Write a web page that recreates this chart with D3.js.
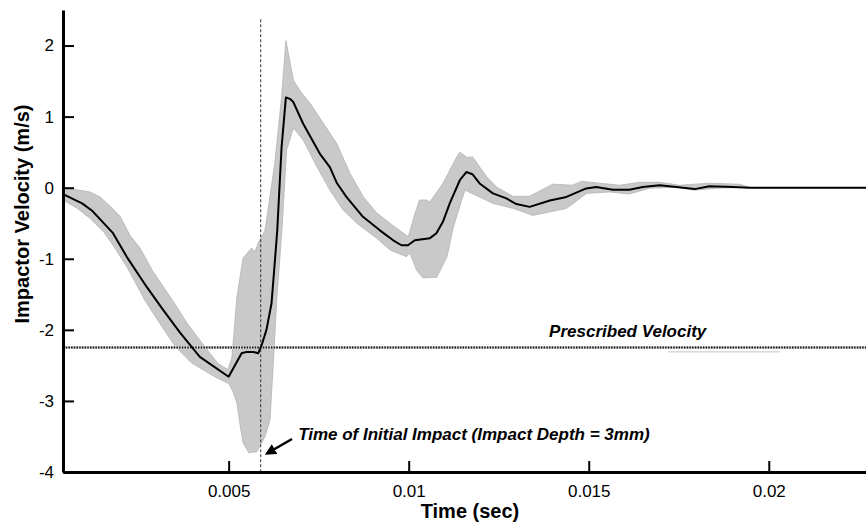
<!DOCTYPE html>
<html>
<head>
<meta charset="utf-8">
<script src="https://cdn.jsdelivr.net/npm/d3@7"></script>
<style>
  body { margin: 0; background: #fff; }
  svg { display: block; font-family: "Liberation Sans", Arial, sans-serif; }
</style>
</head>
<body>
<div id="chart"></div>
<script>
// mean impactor velocity [time (s), velocity (m/s)]
var meanCurve = [
  [0.0004,-0.09],[0.00093,-0.22],[0.0012,-0.32],[0.00179,-0.64],[0.00218,-0.98],
  [0.00273,-1.40],[0.00318,-1.72],[0.00365,-2.04],[0.0042,-2.38],[0.005,-2.66],
  [0.00536,-2.33],[0.0055,-2.31],[0.00568,-2.31],[0.00582,-2.33],[0.00592,-2.21],
  [0.00605,-2.00],[0.00619,-1.63],[0.00628,-1.06],[0.00635,-0.60],[0.00647,0.57],
  [0.00659,1.27],[0.0067,1.25],[0.00679,1.21],[0.00707,0.90],[0.00753,0.48],
  [0.00781,0.29],[0.0080,0.07],[0.00827,-0.13],[0.00873,-0.41],[0.0092,-0.60],[0.00957,-0.74],
  [0.0098,-0.81],[0.00998,-0.81],[0.01017,-0.74],[0.01059,-0.71],[0.01077,-0.64],
  [0.01095,-0.48],[0.01114,-0.22],[0.01142,0.105],[0.0116,0.22],[0.01177,0.19],
  [0.01197,0.06],[0.01234,-0.08],[0.01271,-0.15],[0.01299,-0.23],[0.01336,-0.27],
  [0.01392,-0.18],[0.01438,-0.13],[0.01493,-0.01],[0.01521,0.01],[0.01567,-0.03],
  [0.01613,-0.03],[0.0165,0.01],[0.01697,0.035],[0.01743,0.01],[0.01794,-0.02],
  [0.01835,0.02],[0.019,0.01],[0.01946,0],[0.0227,0]
]

// upper edge of the grey band
var bandUpper = [
  [0.0004,0.0],[0.00079,-0.03],[0.00115,-0.06],[0.00143,-0.13],[0.00171,-0.26],
  [0.00198,-0.40],[0.00226,-0.67],[0.00254,-0.85],[0.0029,-1.18],[0.00345,-1.59],
  [0.00384,-1.90],[0.00434,-2.24],[0.0047,-2.47],[0.00498,-2.56],
  [0.00509,-2.39],[0.00523,-1.54],[0.0054,-0.99],[0.00564,-0.85],
  [0.00573,-0.90],[0.00582,-0.78],[0.00601,-0.60],[0.00628,0.34],[0.00647,1.275],
  [0.00659,2.07],[0.0068,1.51],[0.0070,1.35],[0.00726,1.19],[0.00763,0.906],
  [0.0080,0.624],[0.00837,0.202],[0.00874,-0.127],[0.00911,-0.354],[0.00948,-0.501],
  [0.00999,-0.69],[0.01018,-0.354],[0.0103,-0.173],[0.01049,-0.173],[0.01059,-0.20],
  [0.01095,0.06],[0.01133,0.43],[0.01142,0.50],
  [0.01161,0.43],[0.01178,0.43],[0.01217,0.15],[0.01244,0.01],[0.01289,-0.12],
  [0.01336,-0.12],[0.014,0.05],[0.01455,0.035],[0.0148,0.09],[0.0153,0.063],
  [0.01586,0.035],[0.01641,0.077],[0.01697,0.077],[0.01752,0.035],[0.01835,0.063],
  [0.01919,0.049],[0.01946,0.007]
]

// lower edge of the grey band
var bandLower = [
  [0.0004,-0.173],[0.00079,-0.29],[0.00115,-0.43],[0.00154,-0.63],[0.00179,-0.81],
  [0.00218,-1.12],[0.00268,-1.59],[0.00309,-1.91],[0.00351,-2.23],[0.00398,-2.47],
  [0.00462,-2.66],[0.00501,-2.76],[0.00512,-2.87],[0.00523,-3.03],[0.00531,-3.31],
  [0.0054,-3.59],[0.00556,-3.73],[0.00578,-3.715],[0.00592,-3.59],[0.00601,-3.50],
  [0.00615,-3.265],[0.00623,-2.56],[0.00634,-1.54],[0.00648,-0.60],[0.00661,0.53],
  [0.0068,0.84],[0.00707,0.67],[0.00745,0.295],[0.00781,-0.033],[0.00818,-0.314],
  [0.00856,-0.50],[0.00911,-0.71],[0.00948,-0.877],[0.00994,-0.97],[0.01003,-0.92],
  [0.01022,-1.16],[0.0104,-1.27],
  [0.01078,-1.26],[0.01106,-0.98],[0.01124,-0.555],[0.01156,-0.035],[0.01197,-0.13],
  [0.01233,-0.22],[0.01289,-0.29],[0.01345,-0.39],[0.01439,-0.29],[0.01494,-0.08],
  [0.01558,-0.06],[0.01613,-0.09],[0.01669,-0.007],[0.01744,0.007],[0.01794,-0.035],
  [0.01855,-0.007],[0.01946,0.007]
]

var xTicks = [0.005, 0.01, 0.015, 0.02]
var xTickLabels = ["0.005", "0.01", "0.015", "0.02"]
var yTicks = [-4, -3, -2, -1, 0, 1, 2]
var yTickLabels = ["-4", "-3", "-2", "-1", "0", "1", "2"]

var prescribedVelocity = -2.25
var impactTime = 0.00589
var faintSegment = [[0.0172, -2.31], [0.0203, -2.31]]
var impactArrow = [[0.00676, -3.536], [0.00606, -3.74]]
var impactLabel = {t: 0.00693, v: -3.55, text: "Time of Initial Impact (Impact Depth = 3mm)"}
var prescribedLabel = {t: 0.0139, v: -2.10, text: "Prescribed Velocity"}

var W = 866, H = 526
var margin = {top: 10, right: 0, bottom: 54, left: 63}

var svg = d3.select("#chart").append("svg")
  .attr("width", W)
  .attr("height", H)

var xScale = d3.scaleLinear()
  .domain([0.0004, 0.0227])
  .range([margin.left, W - margin.right])

var yScale = d3.scaleLinear()
  .domain([-4, 2.5])
  .range([H - margin.bottom, margin.top])

var defs = svg.append("defs")
defs.append("marker")
  .attr("id", "arrowhead")
  .attr("viewBox", "0 0 10 10")
  .attr("refX", 8)
  .attr("refY", 5)
  .attr("markerWidth", 4.5)
  .attr("markerHeight", 4.5)
  .attr("orient", "auto")
  .append("path")
  .attr("d", "M0,0 L10,5 L0,10 Z")
  .attr("fill", "#000")

var line = d3.line()
  .x(function(d){ return xScale(d[0]) })
  .y(function(d){ return yScale(d[1]) })

// grey band: upper edge forward, lower edge back
var bandPoly = bandUpper.concat(bandLower.slice().reverse())
svg.append("path")
  .attr("d", line(bandPoly) + "Z")
  .attr("fill", "#c9c9c9")
  .attr("stroke", "#b4b4b4")
  .attr("stroke-width", 0.8)

// faint grey segment under the prescribed line
svg.append("path")
  .attr("d", line(faintSegment))
  .attr("stroke", "#c4c4c4")
  .attr("stroke-width", 1)
  .attr("fill", "none")

// prescribed velocity (dotted)
svg.append("line")
  .attr("x1", xScale.range()[0])
  .attr("x2", xScale.range()[1])
  .attr("y1", yScale(prescribedVelocity))
  .attr("y2", yScale(prescribedVelocity))
  .attr("stroke", "#d8d8d8")
  .attr("stroke-width", 3)
svg.append("line")
  .attr("x1", xScale.range()[0])
  .attr("x2", xScale.range()[1])
  .attr("y1", yScale(prescribedVelocity))
  .attr("y2", yScale(prescribedVelocity))
  .attr("stroke", "#111")
  .attr("stroke-width", 2)
  .attr("stroke-dasharray", "1.5,1.2")

// time of initial impact (dashed)
svg.append("line")
  .attr("x1", xScale(impactTime))
  .attr("x2", xScale(impactTime))
  .attr("y1", yScale(2.37))
  .attr("y2", yScale(-4))
  .attr("stroke", "#333")
  .attr("stroke-width", 1)
  .attr("stroke-dasharray", "3,2")

// mean curve
svg.append("path")
  .attr("d", line(meanCurve))
  .attr("fill", "none")
  .attr("stroke", "#000")
  .attr("stroke-width", 2)
  .attr("stroke-linejoin", "round")

// axes
var xAxis = d3.axisBottom(xScale)
  .tickValues(xTicks)
  .tickFormat(function(d, i){ return xTickLabels[i] })
  .tickSizeInner(-11)
  .tickSizeOuter(0)
  .tickPadding(13)

var gx = svg.append("g")
  .attr("transform", "translate(0," + yScale(-4) + ")")
  .call(xAxis)

var yAxis = d3.axisLeft(yScale)
  .tickValues(yTicks)
  .tickFormat(function(d, i){ return yTickLabels[i] })
  .tickSizeInner(-11)
  .tickSizeOuter(0)
  .tickPadding(9)

var gy = svg.append("g")
  .attr("transform", "translate(" + xScale(0.0004) + ",0)")
  .call(yAxis)

svg.selectAll(".domain")
  .attr("stroke", "#000")
  .attr("stroke-width", 3)
svg.selectAll(".tick line")
  .attr("stroke", "#000")
  .attr("stroke-width", 2)
svg.selectAll(".tick text")
  .attr("font-family", "Liberation Sans, Arial, sans-serif")
  .attr("font-size", "17px")
  .attr("fill", "#000")

// axis titles
svg.append("text")
  .attr("x", 470)
  .attr("y", 518)
  .attr("text-anchor", "middle")
  .attr("font-size", "20px")
  .attr("font-weight", "bold")
  .text("Time (sec)")

svg.append("text")
  .attr("transform", "translate(29,214) rotate(-90)")
  .attr("text-anchor", "middle")
  .attr("font-size", "20px")
  .attr("font-weight", "bold")
  .text("Impactor Velocity (m/s)")

// annotations
svg.append("text")
  .attr("x", xScale(prescribedLabel.t))
  .attr("y", yScale(prescribedLabel.v))
  .attr("font-size", "17px")
  .attr("font-weight", "bold")
  .attr("font-style", "italic")
  .text(prescribedLabel.text)

svg.append("text")
  .attr("x", xScale(impactLabel.t))
  .attr("y", yScale(impactLabel.v))
  .attr("font-size", "17px")
  .attr("font-weight", "bold")
  .attr("font-style", "italic")
  .text(impactLabel.text)

svg.append("path")
  .attr("d", line(impactArrow))
  .attr("stroke", "#000")
  .attr("stroke-width", 2.5)
  .attr("fill", "none")
  .attr("marker-end", "url(#arrowhead)")
</script>
</body>
</html>
